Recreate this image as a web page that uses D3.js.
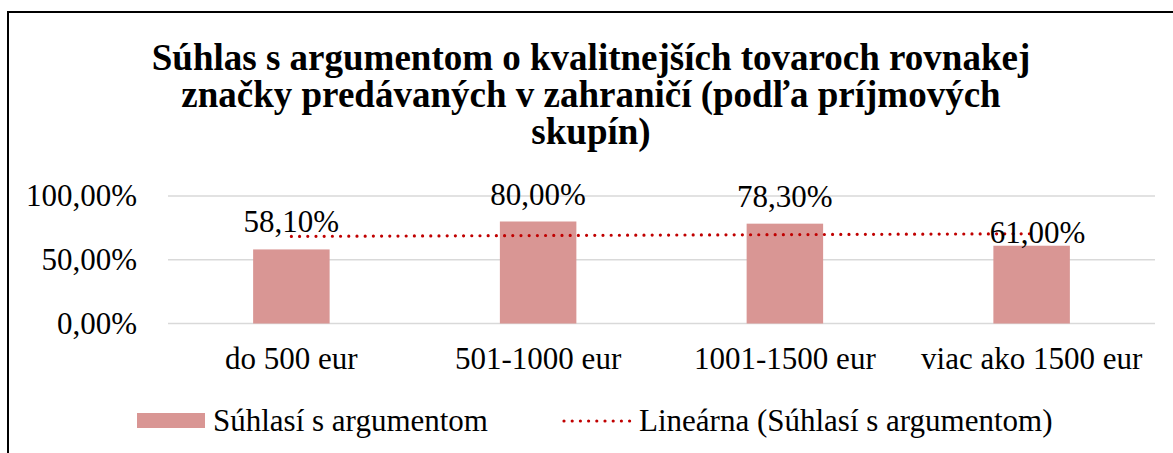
<!DOCTYPE html>
<html>
<head>
<meta charset="utf-8">
<script src="https://d3js.org/d3.v7.min.js"></script>
<title>Súhlas s argumentom</title>
<style>
body { margin: 0; background: #fff; }
svg { display: block; font-family: "Liberation Serif", "Times New Roman", serif; }
</style>
</head>
<body>
<svg width="1173" height="453"></svg>
<script>

// data
let categories = ["do 500 eur", "501-1000 eur", "1001-1500 eur", "viac ako 1500 eur"];
let values = [58.1, 80.0, 78.3, 61.0];
let yTicks = [0, 50, 100];
let titleLines = ["Súhlas s argumentom o kvalitnejších tovaroch rovnakej",
                  "značky predávaných v zahraničí (podľa príjmových",
                  "skupín)"];
let seriesName = "Súhlasí s argumentom";
let trendName = "Lineárna (Súhlasí s argumentom)";

let barColor = "#d99694";
let trendColor = "#c00000";
let fontSize = 31;

let svg = d3.select("svg");

// frame, only top and left are inside the picture
svg.append("rect")
  .attr("x", 8).attr("y", 12)
  .attr("width", 1300).attr("height", 600)
  .attr("fill", "none")
  .attr("stroke", "#000")
  .attr("stroke-width", 2);

// title
svg.append("text")
  .attr("text-anchor", "middle")
  .attr("font-weight", "bold")
  .attr("font-size", 37)
  .selectAll("tspan")
  .data(titleLines)
  .enter().append("tspan")
  .attr("x", 591)
  .attr("y", (d, i) => 70 + i * 37)
  .text(d => d);

let x = d3.scaleBand().domain(categories).range([168, 1155]).paddingInner(0.69).paddingOuter(0.345);
let y = d3.scaleLinear().domain([0, 100]).range([323.5, 196]);

let fmt = v => d3.format(".2f")(v).replace(".", ",") + "%";

// gridlines
svg.append("g")
  .selectAll("line")
  .data(yTicks)
  .enter().append("line")
  .attr("x1", 168).attr("x2", 1155)
  .attr("y1", d => y(d)).attr("y2", d => y(d))
  .attr("stroke", "#d9d9d9")
  .attr("stroke-width", 1.5);

// y axis labels
let yAxis = d3.axisLeft(y).tickValues(yTicks).tickFormat(fmt).tickSize(0).tickPadding(0);
let ya = svg.append("g").attr("transform", "translate(137,0)").call(yAxis);
ya.select(".domain").remove();
ya.selectAll("text").attr("font-size", fontSize).attr("font-family", "Liberation Serif").attr("fill", "#000");

// x axis labels
let xAxis = d3.axisBottom(x).tickSize(0).tickPadding(0);
let xa = svg.append("g").attr("transform", "translate(0,347)").call(xAxis);
xa.select(".domain").remove();
xa.selectAll("text").attr("font-size", fontSize).attr("font-family", "Liberation Serif").attr("fill", "#000");

// bars
svg.append("g")
  .selectAll("rect")
  .data(values)
  .enter().append("rect")
  .attr("x", (d, i) => x(categories[i]))
  .attr("y", d => y(d))
  .attr("width", x.bandwidth())
  .attr("height", d => y(0) - y(d))
  .attr("fill", barColor);

// linear trend (least squares over category index)
let n = values.length;
let mx = (n + 1) / 2;
let my = d3.mean(values);
let sxy = d3.sum(values, (v, i) => (i + 1 - mx) * (v - my));
let sxx = d3.sum(values, (v, i) => (i + 1 - mx) * (i + 1 - mx));
let slope = sxy / sxx;
let trend = values.map((v, i) => my + slope * (i + 1 - mx));
let cx = c => x(c) + x.bandwidth() / 2;

svg.append("line")
  .attr("x1", cx(categories[0])).attr("y1", y(trend[0]))
  .attr("x2", cx(categories[n - 1])).attr("y2", y(trend[n - 1]))
  .attr("stroke", trendColor)
  .attr("stroke-width", 3.2)
  .attr("stroke-linecap", "round")
  .attr("stroke-dasharray", "0 8.2");

// data labels (last one sits lower, over the trendline)
let labelNudge = [[0, -17], [0, -17], [0, -17], [6, -3]];
svg.append("g")
  .selectAll("text")
  .data(values)
  .enter().append("text")
  .attr("x", (d, i) => cx(categories[i]) + labelNudge[i][0])
  .attr("y", (d, i) => y(d) + labelNudge[i][1])
  .attr("text-anchor", "middle")
  .attr("font-size", fontSize)
  .text(d => fmt(d));

// legend
let lg = svg.append("g");
lg.append("rect")
  .attr("x", 137).attr("y", 413)
  .attr("width", 68).attr("height", 15)
  .attr("fill", barColor);
lg.append("text")
  .attr("x", 213).attr("y", 431)
  .attr("font-size", fontSize)
  .text(seriesName);
lg.append("line")
  .attr("x1", 564).attr("x2", 632)
  .attr("y1", 421).attr("y2", 421)
  .attr("stroke", trendColor)
  .attr("stroke-width", 3.2)
  .attr("stroke-linecap", "round")
  .attr("stroke-dasharray", "0 8.2");
lg.append("text")
  .attr("x", 639).attr("y", 431)
  .attr("font-size", fontSize)
  .text(trendName);

</script>
</body>
</html>
